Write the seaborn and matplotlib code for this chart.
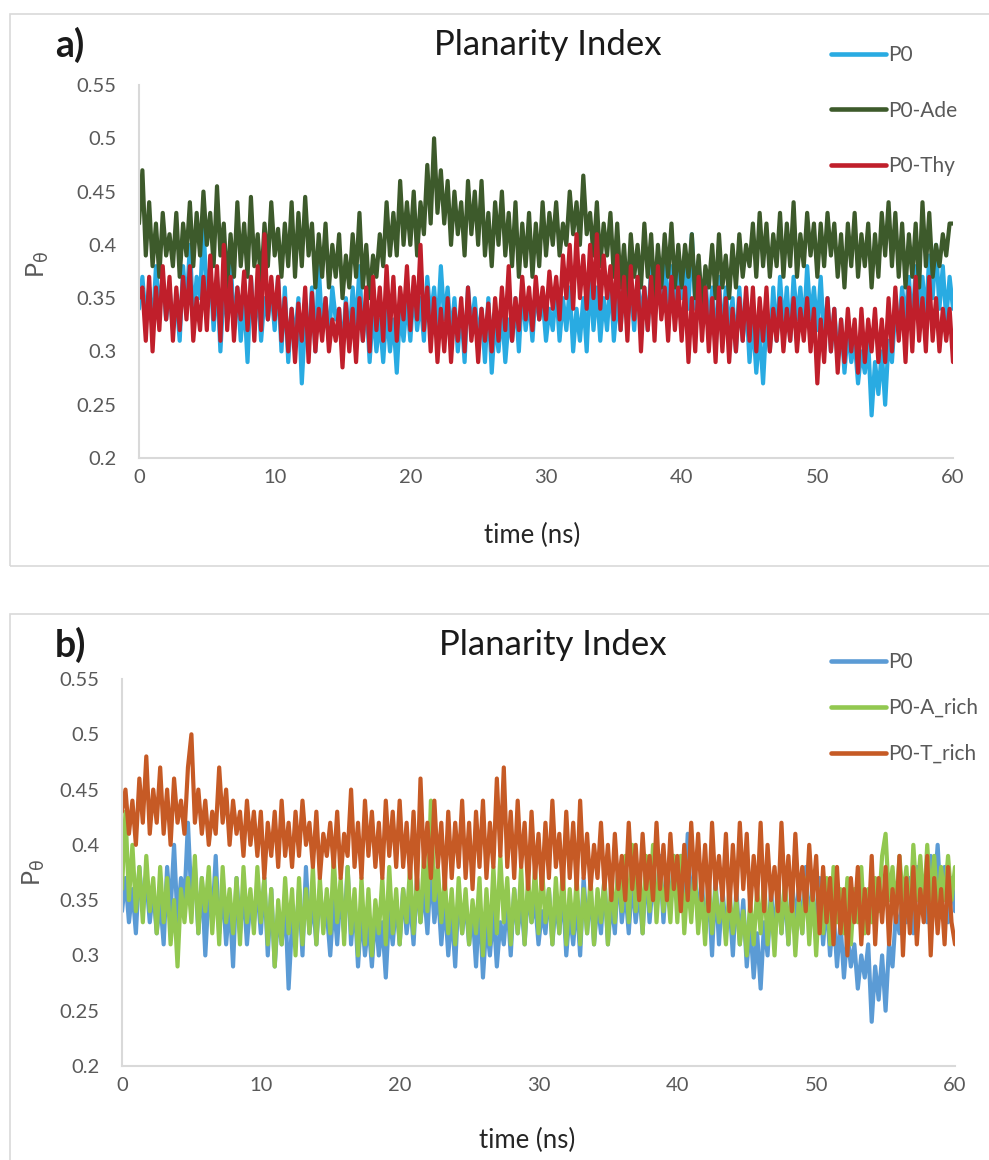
import numpy as np
import pandas as pd
import seaborn as sns
import matplotlib.pyplot as plt
from matplotlib.patches import Rectangle
from matplotlib.ticker import FuncFormatter

# time grid (ns), one value every 0.25 ns
time_ns = np.arange(0, 241) * 0.25

# P0 is the same trajectory in both panels
p0 = [0.34, 0.37, 0.33, 0.36, 0.32, 0.38, 0.34, 0.37, 0.33, 0.36, 0.32, 0.35, 0.31, 0.38, 0.34, 0.40, 0.33, 0.37, 0.35, 0.42,
      0.35, 0.38, 0.32, 0.37, 0.30, 0.36, 0.33, 0.39, 0.32, 0.36, 0.31, 0.35, 0.29, 0.37, 0.32, 0.36, 0.31, 0.35, 0.33, 0.36,
      0.32, 0.37, 0.30, 0.36, 0.29, 0.34, 0.31, 0.35, 0.27, 0.33, 0.31, 0.36, 0.30, 0.38, 0.32, 0.35, 0.31, 0.36, 0.33, 0.34,
      0.30, 0.35, 0.31, 0.36, 0.32, 0.38, 0.31, 0.35, 0.29, 0.34, 0.30, 0.33, 0.29, 0.34, 0.30, 0.33, 0.28, 0.34, 0.31, 0.35,
      0.31, 0.36, 0.32, 0.35, 0.31, 0.37, 0.33, 0.36, 0.32, 0.38, 0.33, 0.36, 0.31, 0.35, 0.30, 0.34, 0.29, 0.36, 0.32, 0.35,
      0.31, 0.34, 0.29, 0.35, 0.28, 0.33, 0.30, 0.34, 0.29, 0.33, 0.31, 0.35, 0.30, 0.36, 0.32, 0.35, 0.31, 0.36, 0.33, 0.35,
      0.31, 0.34, 0.32, 0.36, 0.31, 0.35, 0.32, 0.36, 0.30, 0.34, 0.31, 0.35, 0.30, 0.37, 0.32, 0.36, 0.31, 0.35, 0.32, 0.37,
      0.31, 0.35, 0.32, 0.38, 0.33, 0.36, 0.32, 0.37, 0.33, 0.36, 0.32, 0.38, 0.33, 0.37, 0.34, 0.39, 0.33, 0.38, 0.34, 0.39,
      0.35, 0.39, 0.34, 0.41, 0.34, 0.38, 0.33, 0.37, 0.32, 0.36, 0.30, 0.37, 0.31, 0.36, 0.32, 0.35, 0.30, 0.36, 0.31, 0.35,
      0.29, 0.33, 0.28, 0.32, 0.27, 0.33, 0.30, 0.36, 0.31, 0.37, 0.32, 0.36, 0.31, 0.37, 0.33, 0.36, 0.32, 0.38, 0.33, 0.36,
      0.32, 0.37, 0.31, 0.35, 0.30, 0.34, 0.29, 0.33, 0.28, 0.32, 0.29, 0.31, 0.27, 0.30, 0.28, 0.31, 0.24, 0.29, 0.26, 0.30,
      0.25, 0.31, 0.29, 0.34, 0.32, 0.36, 0.33, 0.37, 0.32, 0.38, 0.34, 0.37, 0.33, 0.39, 0.35, 0.40, 0.34, 0.38, 0.33, 0.37,
      0.34]

p0_ade = [0.42, 0.47, 0.39, 0.44, 0.38, 0.42, 0.37, 0.43, 0.39, 0.41, 0.38, 0.43, 0.37, 0.42, 0.39, 0.44, 0.38, 0.43, 0.39, 0.45,
          0.40, 0.43, 0.38, 0.455, 0.39, 0.42, 0.36, 0.41, 0.37, 0.44, 0.38, 0.42, 0.37, 0.445, 0.38, 0.41, 0.36, 0.42, 0.38, 0.44,
          0.39, 0.415, 0.37, 0.42, 0.38, 0.44, 0.37, 0.43, 0.38, 0.445, 0.39, 0.42, 0.36, 0.41, 0.37, 0.42, 0.36, 0.40, 0.37, 0.41,
          0.35, 0.39, 0.36, 0.41, 0.37, 0.43, 0.36, 0.40, 0.35, 0.39, 0.37, 0.41, 0.38, 0.44, 0.39, 0.43, 0.39, 0.46, 0.40, 0.44,
          0.40, 0.45, 0.39, 0.44, 0.41, 0.475, 0.42, 0.50, 0.43, 0.47, 0.42, 0.46, 0.40, 0.45, 0.41, 0.44, 0.39, 0.46, 0.41, 0.45,
          0.40, 0.46, 0.39, 0.43, 0.38, 0.44, 0.40, 0.45, 0.39, 0.43, 0.38, 0.44, 0.37, 0.42, 0.38, 0.43, 0.37, 0.42, 0.38, 0.44,
          0.39, 0.43, 0.40, 0.44, 0.39, 0.42, 0.40, 0.45, 0.41, 0.44, 0.40, 0.465, 0.41, 0.43, 0.39, 0.44, 0.38, 0.42, 0.39, 0.43,
          0.37, 0.42, 0.36, 0.40, 0.35, 0.41, 0.37, 0.40, 0.36, 0.42, 0.37, 0.41, 0.35, 0.40, 0.36, 0.41, 0.37, 0.42, 0.36, 0.40,
          0.36, 0.40, 0.37, 0.41, 0.35, 0.39, 0.34, 0.38, 0.36, 0.40, 0.35, 0.41, 0.36, 0.39, 0.35, 0.40, 0.36, 0.41, 0.37, 0.40,
          0.38, 0.42, 0.37, 0.43, 0.38, 0.42, 0.37, 0.41, 0.38, 0.43, 0.37, 0.42, 0.38, 0.44, 0.37, 0.41, 0.38, 0.43, 0.39, 0.42,
          0.37, 0.42, 0.38, 0.43, 0.39, 0.42, 0.37, 0.41, 0.36, 0.42, 0.38, 0.43, 0.37, 0.41, 0.38, 0.42, 0.36, 0.41, 0.37, 0.43,
          0.39, 0.44, 0.38, 0.43, 0.37, 0.42, 0.36, 0.41, 0.37, 0.42, 0.36, 0.44, 0.38, 0.43, 0.37, 0.40, 0.38, 0.41, 0.39, 0.42,
          0.42]

p0_thy = [0.35, 0.36, 0.31, 0.37, 0.30, 0.36, 0.32, 0.38, 0.33, 0.37, 0.31, 0.36, 0.32, 0.37, 0.33, 0.38, 0.31, 0.35, 0.32, 0.37,
          0.32, 0.39, 0.33, 0.38, 0.31, 0.40, 0.32, 0.37, 0.31, 0.36, 0.33, 0.375, 0.32, 0.37, 0.31, 0.38, 0.32, 0.41, 0.33, 0.37,
          0.33, 0.37, 0.31, 0.35, 0.30, 0.34, 0.29, 0.345, 0.31, 0.36, 0.29, 0.355, 0.30, 0.34, 0.31, 0.35, 0.30, 0.33, 0.31, 0.34,
          0.285, 0.345, 0.30, 0.34, 0.29, 0.35, 0.31, 0.36, 0.30, 0.37, 0.32, 0.36, 0.31, 0.38, 0.32, 0.37, 0.31, 0.36, 0.33, 0.38,
          0.32, 0.37, 0.33, 0.40, 0.32, 0.36, 0.30, 0.35, 0.29, 0.34, 0.30, 0.35, 0.29, 0.34, 0.31, 0.35, 0.30, 0.36, 0.31, 0.34,
          0.29, 0.34, 0.31, 0.345, 0.30, 0.35, 0.31, 0.36, 0.32, 0.38, 0.31, 0.35, 0.32, 0.37, 0.33, 0.36, 0.32, 0.37, 0.33, 0.36,
          0.33, 0.375, 0.34, 0.37, 0.33, 0.39, 0.35, 0.40, 0.34, 0.41, 0.35, 0.39, 0.34, 0.40, 0.35, 0.41, 0.34, 0.39, 0.35, 0.38,
          0.33, 0.39, 0.32, 0.37, 0.31, 0.38, 0.33, 0.37, 0.30, 0.36, 0.32, 0.37, 0.31, 0.38, 0.33, 0.36, 0.31, 0.37, 0.32, 0.36,
          0.31, 0.36, 0.29, 0.35, 0.30, 0.37, 0.31, 0.36, 0.30, 0.35, 0.29, 0.36, 0.30, 0.35, 0.29, 0.34, 0.30, 0.35, 0.31, 0.36,
          0.31, 0.36, 0.30, 0.35, 0.31, 0.36, 0.30, 0.34, 0.31, 0.35, 0.30, 0.34, 0.31, 0.35, 0.30, 0.34, 0.31, 0.35, 0.30, 0.34,
          0.27, 0.33, 0.29, 0.35, 0.30, 0.34, 0.28, 0.33, 0.29, 0.34, 0.30, 0.33, 0.28, 0.34, 0.29, 0.33, 0.30, 0.34, 0.29, 0.33,
          0.29, 0.35, 0.30, 0.36, 0.31, 0.35, 0.29, 0.36, 0.30, 0.37, 0.31, 0.35, 0.30, 0.37, 0.31, 0.35, 0.30, 0.34, 0.31, 0.34,
          0.29]

p0_a_rich = [0.36, 0.43, 0.35, 0.40, 0.34, 0.38, 0.33, 0.39, 0.34, 0.37, 0.32, 0.38, 0.33, 0.37, 0.31, 0.35, 0.29, 0.36, 0.33, 0.37,
             0.33, 0.39, 0.32, 0.37, 0.34, 0.38, 0.32, 0.37, 0.31, 0.38, 0.33, 0.36, 0.32, 0.37, 0.31, 0.38, 0.33, 0.36, 0.32, 0.38,
             0.33, 0.37, 0.31, 0.36, 0.29, 0.35, 0.31, 0.37, 0.32, 0.36, 0.30, 0.37, 0.31, 0.36, 0.32, 0.38, 0.31, 0.37, 0.32, 0.36,
             0.32, 0.39, 0.33, 0.37, 0.31, 0.38, 0.32, 0.36, 0.30, 0.37, 0.31, 0.36, 0.30, 0.35, 0.32, 0.37, 0.31, 0.38, 0.32, 0.36,
             0.31, 0.36, 0.33, 0.38, 0.32, 0.37, 0.33, 0.39, 0.34, 0.44, 0.35, 0.38, 0.33, 0.37, 0.32, 0.36, 0.31, 0.37, 0.32, 0.36,
             0.31, 0.35, 0.32, 0.37, 0.30, 0.36, 0.31, 0.38, 0.32, 0.39, 0.33, 0.37, 0.31, 0.36, 0.32, 0.38, 0.31, 0.37, 0.33, 0.38,
             0.32, 0.38, 0.33, 0.36, 0.31, 0.37, 0.32, 0.38, 0.31, 0.36, 0.32, 0.37, 0.31, 0.36, 0.32, 0.37, 0.31, 0.36, 0.33, 0.37,
             0.31, 0.37, 0.33, 0.38, 0.34, 0.39, 0.33, 0.40, 0.34, 0.38, 0.32, 0.39, 0.34, 0.40, 0.33, 0.38, 0.34, 0.37, 0.33, 0.39,
             0.33, 0.39, 0.32, 0.37, 0.33, 0.38, 0.32, 0.36, 0.31, 0.37, 0.32, 0.36, 0.33, 0.35, 0.31, 0.36, 0.32, 0.35, 0.31, 0.34,
             0.30, 0.35, 0.31, 0.36, 0.32, 0.37, 0.31, 0.35, 0.30, 0.36, 0.32, 0.37, 0.31, 0.36, 0.30, 0.35, 0.32, 0.37, 0.31, 0.36,
             0.30, 0.36, 0.32, 0.37, 0.31, 0.38, 0.33, 0.36, 0.32, 0.37, 0.31, 0.36, 0.33, 0.38, 0.32, 0.36, 0.33, 0.37, 0.34, 0.39,
             0.41, 0.35, 0.38, 0.34, 0.39, 0.35, 0.38, 0.33, 0.40, 0.35, 0.39, 0.34, 0.40, 0.35, 0.39, 0.34, 0.38, 0.35, 0.39, 0.35,
             0.38]

p0_t_rich = [0.43, 0.45, 0.41, 0.44, 0.40, 0.46, 0.42, 0.48, 0.41, 0.45, 0.42, 0.47, 0.41, 0.45, 0.40, 0.46, 0.42, 0.44, 0.41, 0.47,
             0.50, 0.42, 0.45, 0.41, 0.44, 0.40, 0.43, 0.41, 0.47, 0.42, 0.45, 0.40, 0.44, 0.41, 0.43, 0.39, 0.44, 0.40, 0.43, 0.39,
             0.43, 0.37, 0.42, 0.39, 0.43, 0.38, 0.44, 0.39, 0.42, 0.38, 0.43, 0.39, 0.44, 0.40, 0.42, 0.38, 0.43, 0.37, 0.41, 0.39,
             0.42, 0.38, 0.43, 0.37, 0.41, 0.39, 0.45, 0.38, 0.42, 0.37, 0.44, 0.39, 0.43, 0.38, 0.42, 0.37, 0.44, 0.39, 0.43, 0.38,
             0.44, 0.38, 0.42, 0.37, 0.43, 0.36, 0.46, 0.38, 0.42, 0.37, 0.44, 0.38, 0.42, 0.36, 0.43, 0.37, 0.42, 0.38, 0.44, 0.37,
             0.42, 0.36, 0.43, 0.38, 0.44, 0.37, 0.42, 0.38, 0.46, 0.39, 0.47, 0.38, 0.43, 0.37, 0.44, 0.38, 0.42, 0.36, 0.43, 0.37,
             0.41, 0.36, 0.42, 0.37, 0.44, 0.38, 0.41, 0.36, 0.43, 0.37, 0.42, 0.36, 0.44, 0.37, 0.41, 0.36, 0.40, 0.37, 0.42, 0.36,
             0.40, 0.35, 0.41, 0.36, 0.39, 0.35, 0.42, 0.36, 0.40, 0.35, 0.41, 0.36, 0.39, 0.35, 0.42, 0.36, 0.40, 0.35, 0.41, 0.36,
             0.39, 0.34, 0.40, 0.35, 0.42, 0.36, 0.41, 0.35, 0.40, 0.34, 0.42, 0.36, 0.39, 0.35, 0.41, 0.34, 0.40, 0.35, 0.42, 0.36,
             0.41, 0.34, 0.39, 0.35, 0.42, 0.34, 0.40, 0.35, 0.38, 0.34, 0.42, 0.35, 0.39, 0.34, 0.41, 0.35, 0.38, 0.34, 0.40, 0.35,
             0.39, 0.32, 0.38, 0.33, 0.37, 0.31, 0.38, 0.32, 0.36, 0.30, 0.37, 0.33, 0.38, 0.31, 0.36, 0.32, 0.39, 0.31, 0.37, 0.33,
             0.38, 0.31, 0.36, 0.33, 0.39, 0.30, 0.37, 0.32, 0.38, 0.31, 0.36, 0.33, 0.39, 0.30, 0.37, 0.32, 0.36, 0.31, 0.38, 0.33,
             0.31]

for s in [p0, p0_ade, p0_thy, p0_a_rich, p0_t_rich]:
    assert len(s) == len(time_ns), len(s)

labels_a = ['P0', 'P0-Ade', 'P0-Thy']
labels_b = ['P0', 'P0-A_rich', 'P0-T_rich']
colors_a = ['#29ABE2', '#3D5A2B', '#C01F2B']
colors_b = ['#5B9BD5', '#92C850', '#C65A25']

sns.set_style('white')
plt.rcParams['font.family'] = ['Lato', 'DejaVu Sans']

fig = plt.figure(figsize=(9.89, 11.6), dpi=100)

# panel frames
fig.patches.append(Rectangle((10 / 989, 1 - 566 / 1160), 1.0, 552 / 1160, transform=fig.transFigure,
                             fill=False, edgecolor='#D9D9D9', linewidth=1.2))
fig.patches.append(Rectangle((10 / 989, -0.1), 1.0, 0.1 + (1160 - 614) / 1160, transform=fig.transFigure,
                             fill=False, edgecolor='#D9D9D9', linewidth=1.2))

ax_a = fig.add_axes([139 / 989, 1 - 458 / 1160, 814 / 989, 373 / 1160])
ax_b = fig.add_axes([122 / 989, 1 - 1066 / 1160, 833 / 989, 387 / 1160])


def draw_panel(ax, series, labels, colors, leg_top, spacing):
    df = pd.DataFrame({'time': np.tile(time_ns, len(series)),
                       'value': np.concatenate(series),
                       'series': np.repeat(labels, len(time_ns))})
    sns.lineplot(data=df, x='time', y='value', hue='series', palette=colors, hue_order=labels,
                 linewidth=3.0, ax=ax, estimator=None, sort=False)
    ax.set_xlim(0, 60)
    ax.set_ylim(0.2, 0.55)
    ax.set_xticks(range(0, 61, 10))
    ax.set_yticks(np.arange(0.2, 0.551, 0.05))
    ax.yaxis.set_major_formatter(FuncFormatter(lambda v, p: f'{v:g}'))
    ax.tick_params(length=0, labelsize=14.5, labelcolor='#595959')
    ax.tick_params(axis='y', pad=16)
    ax.tick_params(axis='x', pad=8)
    for s in ['top', 'right']:
        ax.spines[s].set_visible(False)
    for s in ['left', 'bottom']:
        ax.spines[s].set_color('#D9D9D9')
        ax.spines[s].set_linewidth(1.5)
    ax.set_xlabel('time (ns)', fontsize=18.5, color='#262626')
    ax.set_ylabel(r'P$_\mathrm{\theta}$', fontsize=18, color='#595959')
    leg = ax.legend(loc='upper left', bbox_to_anchor=(0.83, leg_top), bbox_transform=fig.transFigure,
                    frameon=False, fontsize=15, handlelength=2.65, handletextpad=0.1,
                    labelspacing=spacing, borderpad=0)
    for txt in leg.get_texts():
        txt.set_color('#595959')
    for line in leg.get_lines():
        line.set_linewidth(3.3)


draw_panel(ax_a, [p0, p0_ade, p0_thy], labels_a, colors_a, 0.970, 1.7)
draw_panel(ax_b, [p0, p0_a_rich, p0_t_rich], labels_b, colors_b, 0.447, 1.25)

ax_a.xaxis.set_label_coords(0.483, -0.175)
ax_a.yaxis.set_label_coords(-0.108, 0.52)
ax_b.xaxis.set_label_coords(0.486, -0.16)
ax_b.yaxis.set_label_coords(-0.09, 0.5)

fig.text(548 / 989, 1 - 45 / 1160, 'Planarity Index', ha='center', va='center', fontsize=25, color='#1A1A1A')
fig.text(553 / 989, 1 - 645 / 1160, 'Planarity Index', ha='center', va='center', fontsize=25, color='#1A1A1A')
fig.text(70 / 989, 1 - 45 / 1160, 'a)', ha='center', va='center', fontsize=27, fontweight='bold', color='#1A1A1A')
fig.text(70 / 989, 1 - 645 / 1160, 'b)', ha='center', va='center', fontsize=27, fontweight='bold', color='#1A1A1A')

fig.savefig('out.png', dpi=100)
